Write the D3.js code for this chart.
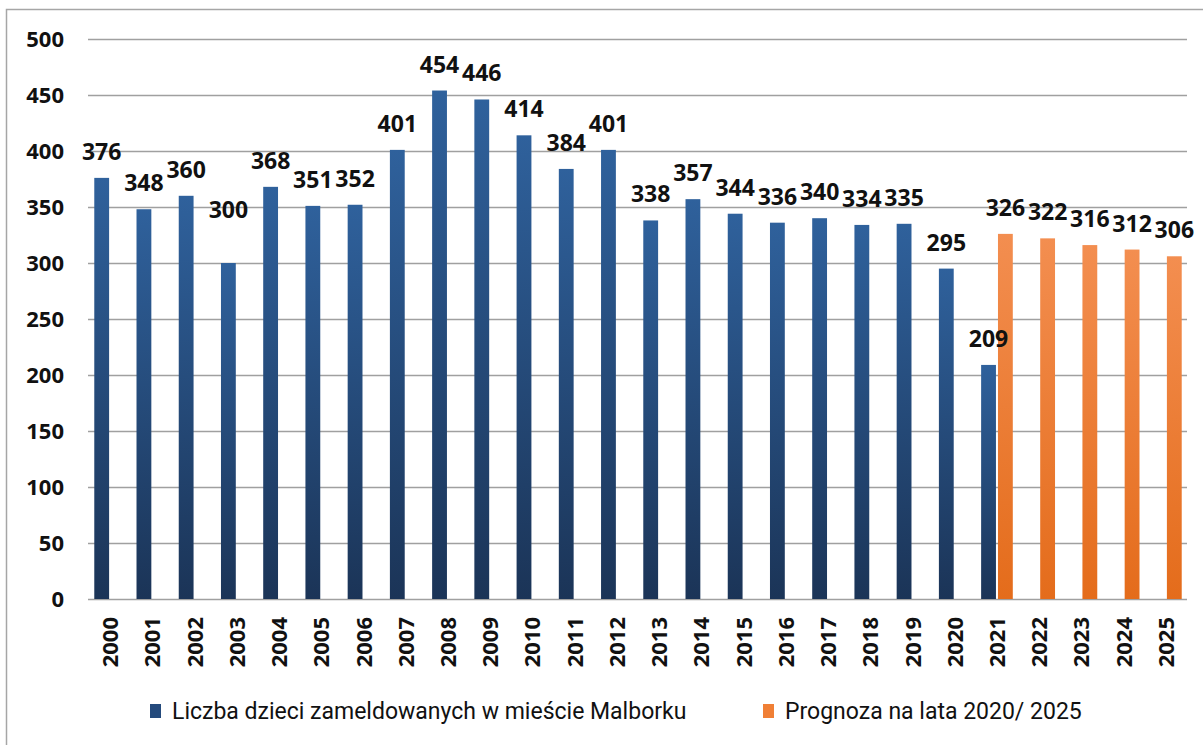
<html>
<head>
<meta charset="UTF-8">
<title>Liczba dzieci zameldowanych w mieście Malborku</title>
<script src="https://d3js.org/d3.v7.min.js"></script>
<style>
  html, body { margin: 0; padding: 0; background: #fff; }
  .tick-label { font-family: "Open Sans", "Liberation Sans", sans-serif; font-weight: bold; font-size: 22px; fill: #111; }
  .val-label { font-family: "Open Sans", "Liberation Sans", sans-serif; font-weight: bold; font-size: 23px; fill: #111; }
  .legend-text { font-family: "Roboto", "Liberation Sans", sans-serif; font-size: 23px; fill: #111; }
</style>
</head>
<body>
<div id="container"></div>
<script>
const years = ["2000","2001","2002","2003","2004","2005","2006","2007","2008","2009","2010","2011","2012",
               "2013","2014","2015","2016","2017","2018","2019","2020","2021","2022","2023","2024","2025"];
const registered = [376,348,360,300,368,351,352,401,454,446,414,384,401,338,357,344,336,340,334,335,295,209,null,null,null,null];
const forecast   = [null,null,null,null,null,null,null,null,null,null,null,null,null,null,null,null,null,null,null,null,null,326,322,316,312,306];
const seriesNames = ["Liczba dzieci zameldowanych w mieście Malborku", "Prognoza na lata 2020/ 2025"];
const yTicks = [0,50,100,150,200,250,300,350,400,450,500];
// manual label nudge (Excel label moved by hand)
const labelNudge = { "2003": -27 };

const W = 1203, H = 745;
const plot = { left: 89, right: 1187, top: 39, bottom: 599 };

const svg = d3.select("#container").append("svg")
  .attr("width", W).attr("height", H);

const defs = svg.append("defs");
function grad(id, top, bottom) {
  const g = defs.append("linearGradient").attr("id", id)
    .attr("x1", 0).attr("y1", 0).attr("x2", 0).attr("y2", 1);
  g.append("stop").attr("offset", "0%").attr("stop-color", top);
  g.append("stop").attr("offset", "100%").attr("stop-color", bottom);
}
grad("gBlue", "#2f619c", "#1b3457");
grad("gOrange", "#f38e50", "#e46c1b");
const fills = ["url(#gBlue)", "url(#gOrange)"];
const legendColors = ["#244a7c", "#f07f35"];

// outer frame
svg.append("path")
  .attr("d", `M6.5,${H} V9.5 H${W}`)
  .attr("fill", "none").attr("stroke", "#a6a6a6").attr("stroke-width", 1.5);

const x = d3.scaleBand().domain(years).range([plot.left, plot.right]).paddingInner(0.25).paddingOuter(0.125);
const xs = d3.scaleBand().domain([0, 1]).range([0, x.bandwidth()]).paddingInner(0.12);
const y = d3.scaleLinear().domain([0, 500]).range([plot.bottom, plot.top]);

// gridlines
svg.append("g").selectAll("line").data(yTicks).join("line")
  .attr("x1", plot.left - 1).attr("x2", plot.right)
  .attr("y1", d => Math.round(y(d)) + 0.5).attr("y2", d => Math.round(y(d)) + 0.5)
  .attr("stroke", "#a0a0a0").attr("stroke-width", 1.3);

// y labels
svg.append("g").selectAll("text").data(yTicks).join("text")
  .attr("class", "tick-label")
  .attr("x", 64).attr("y", d => y(d))
  .attr("dy", "0.36em").attr("text-anchor", "end")
  .text(d => d);

// x labels (rotated)
svg.append("g").selectAll("text").data(years).join("text")
  .attr("class", "tick-label")
  .attr("transform", d => `translate(${x(d) + x.bandwidth() / 2 + 8},617) rotate(-90)`)
  .attr("text-anchor", "end")
  .text(d => d);

const series = [registered, forecast];
const barLayer = svg.append("g");
const labelLayer = svg.append("g");
series.forEach((vals, si) => {
  const data = years.map((yr, i) => ({ yr, v: vals[i] })).filter(d => d.v != null);
  barLayer.append("g").selectAll("rect").data(data).join("rect")
    .attr("x", d => x(d.yr) + xs(si))
    .attr("width", xs.bandwidth())
    .attr("y", d => y(d.v))
    .attr("height", d => y(0) - y(d.v))
    .attr("fill", fills[si]);
  labelLayer.append("g").selectAll("text").data(data).join("text")
    .attr("class", "val-label")
    .attr("x", d => x(d.yr) + xs(si) + xs.bandwidth() / 2)
    .attr("y", d => y(d.v) - 18 + (labelNudge[d.yr] && si === 0 ? labelNudge[d.yr] : 0))
    .attr("text-anchor", "middle")
    .text(d => d.v);
});

// legend
const legendPos = [150, 763];
const lg = svg.append("g");
seriesNames.forEach((name, i) => {
  lg.append("rect").attr("x", legendPos[i]).attr("y", 704)
    .attr("width", 11).attr("height", 14).attr("fill", legendColors[i]);
  lg.append("text").attr("class", "legend-text")
    .attr("x", legendPos[i] + 22).attr("y", 711).attr("dy", "0.35em")
    .text(name);
});
</script>
</body>
</html>
